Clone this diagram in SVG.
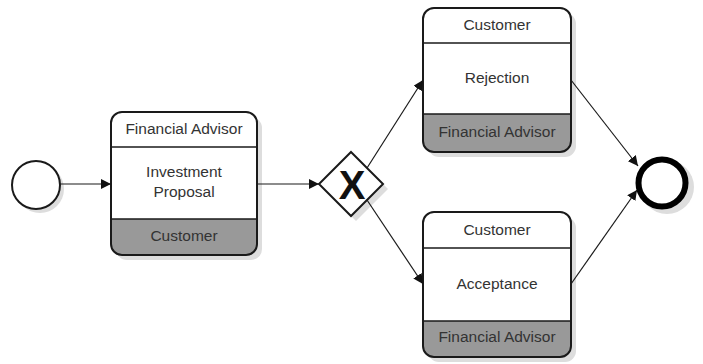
<svg xmlns="http://www.w3.org/2000/svg" width="703" height="364" viewBox="0 0 703 364">
<style>
text{font-family:"Liberation Sans",Arial,sans-serif;font-size:15.5px;fill:#333;text-anchor:middle}
</style>
<defs>
<marker id="arr" viewBox="0 0 10 10" refX="10" refY="5" markerWidth="10" markerHeight="10" markerUnits="userSpaceOnUse" orient="auto">
<path d="M0,0 L10,5 L0,10 z" fill="#111"/>
</marker>
</defs>
<rect width="703" height="364" fill="#ffffff"/>
<g id="start">
<circle cx="40" cy="189" r="24" fill="#dddddd"/>
<circle cx="36" cy="185" r="24" fill="#ffffff" stroke="#1a1a1a" stroke-width="2"/>
</g>
<g id="task-investment">
<rect x="116" y="117" width="146" height="143" rx="11" fill="#dddddd"/>
<rect x="111" y="112" width="146" height="143" rx="11" fill="#ffffff"/>
<path d="M111,219 H257 V244 A11,11 0 0 1 246,255 H122 A11,11 0 0 1 111,244 Z" fill="#999999"/>
<line x1="111" y1="147" x2="257" y2="147" stroke="#1a1a1a" stroke-width="1.5"/>
<line x1="111" y1="219" x2="257" y2="219" stroke="#1a1a1a" stroke-width="1.5"/>
<rect x="111" y="112" width="146" height="143" rx="11" fill="none" stroke="#1a1a1a" stroke-width="2"/>
<text x="184" y="134">Financial Advisor</text>
<text x="184" y="177">Investment</text>
<text x="184" y="197">Proposal</text>
<text x="184" y="241">Customer</text>
</g>
<g id="gateway">
<polygon points="356,157 388,189 356,221 324,189" fill="#dddddd"/>
<polygon points="351,152 383,184 351,216 319,184" fill="#ffffff" stroke="#1a1a1a" stroke-width="2"/>
<text x="352" y="199" style="font-weight:bold;font-size:40px;fill:#111">X</text>
</g>
<g id="task-rejection">
<rect x="428" y="13" width="148" height="144" rx="11" fill="#dddddd"/>
<rect x="423" y="8" width="148" height="144" rx="11" fill="#ffffff"/>
<path d="M423,114 H571 V141 A11,11 0 0 1 560,152 H434 A11,11 0 0 1 423,141 Z" fill="#999999"/>
<line x1="423" y1="43" x2="571" y2="43" stroke="#1a1a1a" stroke-width="1.5"/>
<line x1="423" y1="114" x2="571" y2="114" stroke="#1a1a1a" stroke-width="1.5"/>
<rect x="423" y="8" width="148" height="144" rx="11" fill="none" stroke="#1a1a1a" stroke-width="2"/>
<text x="497" y="30">Customer</text>
<text x="497" y="83">Rejection</text>
<text x="497" y="137">Financial Advisor</text>
</g>
<g id="task-acceptance">
<rect x="428" y="217" width="148" height="145" rx="11" fill="#dddddd"/>
<rect x="423" y="212" width="148" height="145" rx="11" fill="#ffffff"/>
<path d="M423,321 H571 V346 A11,11 0 0 1 560,357 H434 A11,11 0 0 1 423,346 Z" fill="#999999"/>
<line x1="423" y1="248" x2="571" y2="248" stroke="#1a1a1a" stroke-width="1.5"/>
<line x1="423" y1="321" x2="571" y2="321" stroke="#1a1a1a" stroke-width="1.5"/>
<rect x="423" y="212" width="148" height="145" rx="11" fill="none" stroke="#1a1a1a" stroke-width="2"/>
<text x="497" y="235">Customer</text>
<text x="497" y="289">Acceptance</text>
<text x="497" y="342">Financial Advisor</text>
</g>
<g id="end">
<circle cx="667" cy="187" r="27" fill="#dddddd"/>
<circle cx="662" cy="183" r="23.5" fill="#ffffff" stroke="#000000" stroke-width="6"/>
</g>
<g id="connectors" fill="none" stroke="#1a1a1a" stroke-width="1.2">
<line x1="60" y1="184" x2="111" y2="184" marker-end="url(#arr)"/>
<line x1="257" y1="184" x2="319" y2="184" marker-end="url(#arr)"/>
<line x1="367" y1="168" x2="423" y2="80" marker-end="url(#arr)"/>
<line x1="367" y1="200" x2="423" y2="284" marker-end="url(#arr)"/>
<line x1="571" y1="80" x2="638" y2="166" marker-end="url(#arr)"/>
<line x1="571" y1="284" x2="637" y2="190" marker-end="url(#arr)"/>
</g>
</svg>
